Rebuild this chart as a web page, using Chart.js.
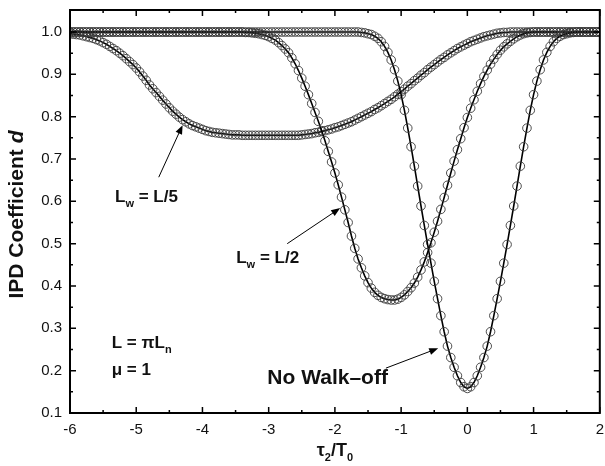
<!DOCTYPE html>
<html>
<head>
<meta charset="utf-8">
<script src="https://cdn.jsdelivr.net/npm/chart.js@4.4.1/dist/chart.umd.min.js"></script>
<style>
  html, body { margin: 0; padding: 0; background: #fff; }
  #wrap { width: 605px; height: 466px; position: relative; }
</style>
</head>
<body>
<div id="wrap"><canvas id="chart"></canvas></div>
<script>
const FONT = '"Liberation Sans", Arial, Helvetica, sans-serif'

// sample grid of tau2/T0: -6 .. 2, step 0.05 (161 points)
const tau = []
for (let i = 0; i <= 160; i++) tau.push(+(-6 + i * 0.05).toFixed(2))

const xTicks = [-6, -5, -4, -3, -2, -1, 0, 1, 2]
const yTicks = [0.1, 0.2, 0.3, 0.4, 0.5, 0.6, 0.7, 0.8, 0.9, 1.0]

// IPD coefficient d
const noWalkoff = [
  1, 1, 1, 1, 1, 1, 1, 1, 1, 1, 1, 1, 1, 1, 1, 1, 1, 1, 1, 1,
  1, 1, 1, 1, 1, 1, 1, 1, 1, 1, 1, 1, 1, 1, 1, 1, 1, 1, 1, 1,
  1, 1, 1, 1, 1, 1, 1, 1, 1, 1, 1, 1, 1, 1, 1, 1, 1, 1, 1, 1,
  1, 1, 1, 1, 1, 1, 1, 1, 1, 1, 1, 1, 1, 1, 1, 1, 1, 1, 1, 1,
  1, 1, 1, 1, 1, 1, 1, 1, 0.999, 0.998, 0.996, 0.994, 0.990, 0.985, 0.977, 0.966, 0.952, 0.934, 0.911, 0.884,
  0.852, 0.815, 0.773, 0.729, 0.683, 0.636, 0.589, 0.543, 0.498, 0.454, 0.411, 0.370, 0.330, 0.292, 0.258, 0.231, 0.208, 0.188, 0.172, 0.162,
  0.158, 0.162, 0.172, 0.188, 0.208, 0.231, 0.258, 0.292, 0.330, 0.370, 0.411, 0.454, 0.498, 0.543, 0.589, 0.636, 0.683, 0.729, 0.773, 0.815,
  0.852, 0.884, 0.911, 0.934, 0.952, 0.966, 0.977, 0.985, 0.990, 0.994, 0.996, 0.998, 0.999, 1, 1, 1, 1, 1, 1, 1,
  1
]

const halfWalk = [
  1, 1, 1, 1, 1, 1, 1, 1, 1, 1, 1, 1, 1, 1, 1, 1, 1, 1, 1, 1,
  1, 1, 1, 1, 1, 1, 1, 1, 1, 1, 1, 1, 1, 1, 1, 1, 1, 1, 1, 1,
  1, 1, 1, 1, 1, 1, 1, 1, 1, 1, 1, 1, 1, 0.999, 0.999, 0.998, 0.997, 0.996, 0.994, 0.992,
  0.989, 0.985, 0.981, 0.975, 0.968, 0.960, 0.951, 0.939, 0.925, 0.909, 0.891, 0.872, 0.852, 0.831, 0.810, 0.789, 0.767, 0.743, 0.718, 0.693,
  0.667, 0.639, 0.610, 0.580, 0.550, 0.518, 0.489, 0.464, 0.443, 0.424, 0.408, 0.395, 0.385, 0.378, 0.373, 0.370, 0.368, 0.367, 0.367, 0.369,
  0.373, 0.379, 0.387, 0.396, 0.407, 0.421, 0.438, 0.457, 0.479, 0.502, 0.527, 0.553, 0.581, 0.609, 0.638, 0.667, 0.695, 0.722, 0.748, 0.774,
  0.798, 0.820, 0.840, 0.860, 0.878, 0.895, 0.910, 0.924, 0.936, 0.947, 0.957, 0.965, 0.972, 0.978, 0.984, 0.989, 0.993, 0.996, 0.998, 0.999,
  1, 1, 1, 1, 1, 1, 1, 1, 1, 1, 1, 1, 1, 1, 1, 1, 1, 1, 1, 1,
  1
]

const fifthWalk = [
  0.996, 0.995, 0.994, 0.993, 0.991, 0.989, 0.987, 0.985, 0.982, 0.979, 0.975, 0.971, 0.966, 0.961, 0.956, 0.950, 0.944, 0.937, 0.930, 0.923,
  0.915, 0.906, 0.896, 0.886, 0.875, 0.866, 0.857, 0.848, 0.839, 0.830, 0.821, 0.813, 0.806, 0.799, 0.793, 0.788, 0.783, 0.779, 0.776, 0.773,
  0.770, 0.767, 0.765, 0.763, 0.762, 0.761, 0.760, 0.759, 0.758, 0.757, 0.757, 0.757, 0.756, 0.756, 0.756, 0.756, 0.756, 0.756, 0.756, 0.756,
  0.756, 0.756, 0.756, 0.756, 0.756, 0.756, 0.756, 0.756, 0.756, 0.756, 0.757, 0.758, 0.759, 0.760, 0.762, 0.763, 0.765, 0.767, 0.769, 0.771,
  0.774, 0.776, 0.779, 0.782, 0.785, 0.788, 0.792, 0.796, 0.800, 0.804, 0.808, 0.812, 0.817, 0.821, 0.826, 0.831, 0.836, 0.841, 0.847, 0.853,
  0.859, 0.865, 0.872, 0.878, 0.885, 0.891, 0.898, 0.904, 0.911, 0.917, 0.923, 0.929, 0.935, 0.940, 0.946, 0.951, 0.956, 0.961, 0.965, 0.969,
  0.973, 0.977, 0.980, 0.983, 0.986, 0.989, 0.991, 0.993, 0.995, 0.997, 0.998, 0.999, 0.999, 1, 1, 1, 1, 1, 1, 1,
  1, 1, 1, 1, 1, 1, 1, 1, 1, 1, 1, 1, 1, 1, 1, 1, 1, 1, 1, 1,
  1
]

// text labels on the plot (data coordinates)
const notes = [
  { x: -5.32, y: 0.61, size: 17, parts: [['L'], ['w', 'sub'], [' = L/5']] },
  { x: -3.49, y: 0.466, size: 17, parts: [['L'], ['w', 'sub'], [' = L/2']] },
  { x: -5.37, y: 0.265, size: 17, parts: [['L = \u03c0L'], ['n', 'sub']] },
  { x: -5.37, y: 0.20, size: 17, parts: [['\u03bc = 1']] },
  { x: -3.02, y: 0.182, size: 21, parts: [['No Walk\u2013off']] },
]
const arrows = [
  [-4.66, 0.657, -4.30, 0.78],
  [-2.72, 0.50, -1.92, 0.584],
  [-1.23, 0.206, -0.44, 0.253],
]

const drawRich = (ctx, parts, x, y, size, center) => {
  const fontFor = p => `${p[1] === 'it' ? 'italic ' : ''}bold ${p[1] === 'sub' ? Math.round(size * 0.62) : size}px ${FONT}`
  let w = 0
  parts.forEach(p => { ctx.font = fontFor(p); w += ctx.measureText(p[0]).width })
  let cx = center ? x - w / 2 : x
  ctx.textAlign = 'left'
  ctx.textBaseline = 'middle'
  parts.forEach(p => {
    ctx.font = fontFor(p)
    ctx.fillText(p[0], cx, p[1] === 'sub' ? y + size * 0.38 : y)
    cx += ctx.measureText(p[0]).width
  })
}

const overlay = {
  id: 'overlay',
  afterDatasetsDraw(chart) {
    const { ctx, chartArea: a, scales: { x, y } } = chart
    ctx.save()
    ctx.strokeStyle = '#000'
    ctx.fillStyle = '#000'
    ctx.lineWidth = 2
    ctx.strokeRect(a.left, a.top, a.right - a.left, a.bottom - a.top)

    // inward ticks on all four sides
    ctx.lineWidth = 1.5
    ctx.beginPath()
    const seg = (x0, y0, x1, y1) => { ctx.moveTo(x0, y0); ctx.lineTo(x1, y1) }
    xTicks.forEach((v, i) => {
      const px = x.getPixelForValue(v)
      seg(px, a.bottom, px, a.bottom - 6); seg(px, a.top, px, a.top + 6)
      if (i < xTicks.length - 1) {
        const m = x.getPixelForValue(v + 0.5)
        seg(m, a.bottom, m, a.bottom - 3); seg(m, a.top, m, a.top + 3)
      }
    })
    yTicks.forEach((v, i) => {
      const py = y.getPixelForValue(v)
      seg(a.left, py, a.left + 6, py); seg(a.right, py, a.right - 6, py)
      if (i < yTicks.length - 1) {
        const m = y.getPixelForValue(v + 0.05)
        seg(a.left, m, a.left + 3, m); seg(a.right, m, a.right - 3, m)
      }
    })
    ctx.stroke()

    // arrows
    ctx.lineWidth = 1
    arrows.forEach(([x0, y0, x1, y1]) => {
      const p0 = [x.getPixelForValue(x0), y.getPixelForValue(y0)]
      const p1 = [x.getPixelForValue(x1), y.getPixelForValue(y1)]
      const ang = Math.atan2(p1[1] - p0[1], p1[0] - p0[0])
      ctx.beginPath()
      ctx.moveTo(p0[0], p0[1])
      ctx.lineTo(p1[0] - 6 * Math.cos(ang), p1[1] - 6 * Math.sin(ang))
      ctx.stroke()
      ctx.beginPath()
      ctx.moveTo(p1[0], p1[1])
      ctx.lineTo(p1[0] - 9 * Math.cos(ang) + 3.5 * Math.sin(ang), p1[1] - 9 * Math.sin(ang) - 3.5 * Math.cos(ang))
      ctx.lineTo(p1[0] - 9 * Math.cos(ang) - 3.5 * Math.sin(ang), p1[1] - 9 * Math.sin(ang) + 3.5 * Math.cos(ang))
      ctx.closePath()
      ctx.fill()
    })

    ctx.fillStyle = '#111'
    notes.forEach(n => drawRich(ctx, n.parts, x.getPixelForValue(n.x), y.getPixelForValue(n.y), n.size, false))

    // axis titles
    drawRich(ctx, [['\u03c4'], ['2', 'sub'], ['/T'], ['0', 'sub']], (a.left + a.right) / 2, a.bottom + 38, 18, true)
    ctx.translate(17, (a.top + a.bottom) / 2 + 3)
    ctx.rotate(-Math.PI / 2)
    drawRich(ctx, [['IPD Coefficient '], ['d', 'it']], 0, 0, 21, true)
    ctx.restore()
  }
}

const curve = values => ({
  data: tau.map((t, i) => ({ x: t, y: values[i] })),
  borderColor: '#000',
  borderWidth: 1.6,
  tension: 0,
  fill: false,
  pointStyle: 'circle',
  pointRadius: 4.3,
  pointBorderWidth: 0.9,
  pointBorderColor: '#3a3a3a',
  pointBackgroundColor: 'rgba(0,0,0,0)',
})

const tickFont = { family: FONT, size: 15 }

new Chart(document.getElementById('chart'), {
  type: 'line',
  data: { datasets: [curve(noWalkoff), curve(halfWalk), curve(fifthWalk)] },
  options: {
    responsive: true,
    maintainAspectRatio: false,
    animation: false,
    layout: { padding: { left: 0, right: 3, top: 10, bottom: 0 } },
    plugins: { legend: { display: false }, tooltip: { enabled: false } },
    scales: {
      x: {
        type: 'linear',
        min: -6,
        max: 2,
        grid: { display: false, drawTicks: false },
        border: { display: false },
        afterBuildTicks: s => { s.ticks = xTicks.map(v => ({ value: v })) },
        afterFit: s => { s.height = 53; s.paddingRight = 3; s.paddingLeft = 0 },
        ticks: { padding: 8, color: '#111', font: tickFont, autoSkip: false, maxRotation: 0, callback: v => String(v) },
      },
      y: {
        type: 'linear',
        min: 0.1,
        max: 1.052,
        grid: { display: false, drawTicks: false },
        border: { display: false },
        afterBuildTicks: s => { s.ticks = yTicks.map(v => ({ value: v })) },
        afterFit: s => { s.width = 70; s.paddingTop = 0; s.paddingBottom = 0 },
        ticks: { padding: 8, color: '#111', font: tickFont, autoSkip: false, callback: v => v.toFixed(1) },
      },
    },
  },
  plugins: [overlay],
})
</script>
</body>
</html>
